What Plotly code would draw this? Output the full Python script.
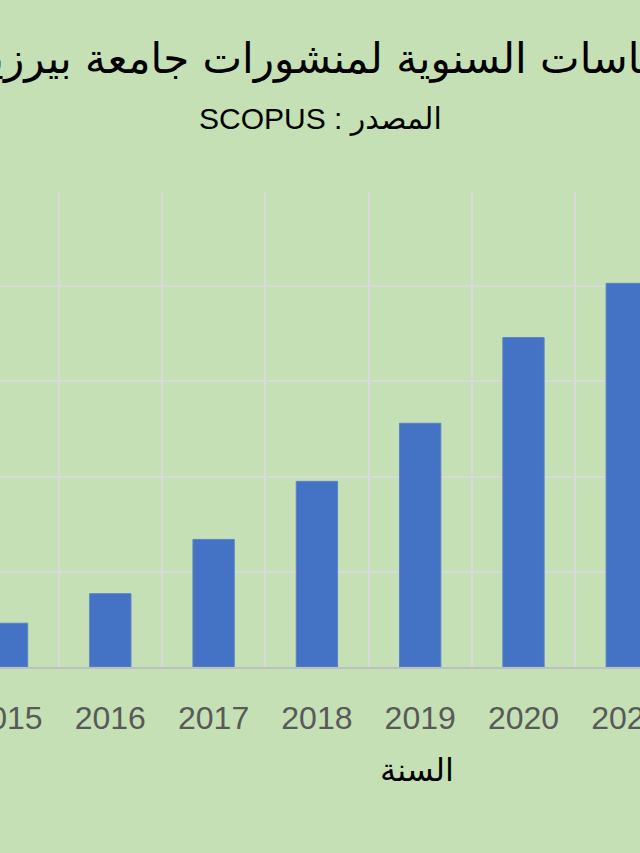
import plotly.graph_objects as go

years = ["2015", "2016", "2017", "2018", "2019", "2020", "2021"]
citations = [46, 77, 134, 195, 256, 346, 403]

title_text = "الاقتباسات السنوية لمنشورات جامعة بيرزيت"
subtitle_text = "SCOPUS : المصدر"
x_title_text = "السنة"

BG = "#c5e0b4"
GRID = "#d9d9d9"

fig = go.Figure(
    go.Bar(
        x=years,
        y=citations,
        marker=dict(color="#4472c4", line=dict(color="#5b82cc", width=1)),
        hoverinfo="skip",
    )
)

top_px, bottom_px, H = 191, 667, 853
def py(p):
    return (bottom_px - p) / (bottom_px - top_px)

fig.update_layout(
    width=640,
    height=853,
    margin=dict(l=0, r=0, t=top_px, b=H - bottom_px, pad=0, autoexpand=False),
    paper_bgcolor=BG,
    plot_bgcolor=BG,
    bargap=0.6,
    showlegend=False,
    xaxis=dict(
        type="category",
        range=[-0.068, 6.128],
        automargin=False,
        tickson="boundaries",
        showgrid=True,
        gridcolor=GRID,
        gridwidth=2,
        showline=True,
        linecolor="#bfbfbf",
        linewidth=2,
        ticks="",
        ticklabelstandoff=22,
        tickfont=dict(family="Liberation Sans, Arial", size=32, color="#595959"),
    ),
    yaxis=dict(
        range=[0, 500],
        dtick=100,
        automargin=False,
        showgrid=True,
        gridcolor=GRID,
        gridwidth=2,
        zeroline=False,
        showticklabels=False,
        ticks="",
    ),
    annotations=[
        dict(text=title_text, x=336 / 640, y=py(58), xref="paper", yref="paper",
             xanchor="center", yanchor="middle", showarrow=False,
             font=dict(family="DejaVu Sans", size=42, color="#000000")),
        dict(text=subtitle_text, x=320 / 640, y=py(119), xref="paper", yref="paper",
             xanchor="center", yanchor="middle", showarrow=False,
             font=dict(family="Liberation Sans, DejaVu Sans", size=30, color="#000000")),
        dict(text=x_title_text, x=417 / 640, y=py(770), xref="paper", yref="paper",
             xanchor="center", yanchor="middle", showarrow=False,
             font=dict(family="DejaVu Sans", size=32, color="#000000")),
    ],
)

fig.write_html(
    "out.html",
    config={"displayModeBar": False},
    post_script="document.body.style.margin='0';document.body.style.overflow='hidden';",
)
